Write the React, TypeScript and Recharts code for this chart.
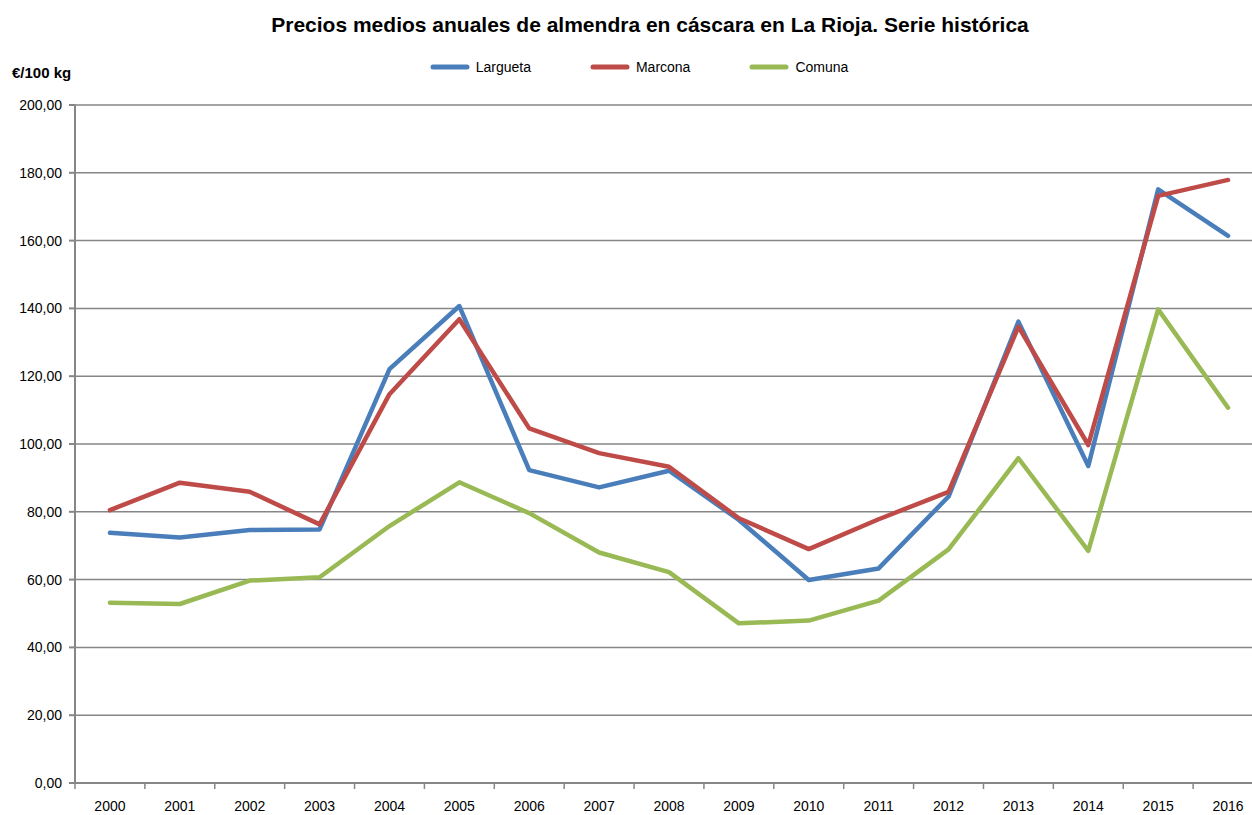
import React from "react";
import {
  LineChart,
  Line,
  XAxis,
  YAxis,
  CartesianGrid,
} from "recharts";

// años de la serie
const years = [
  "2000", "2001", "2002", "2003", "2004", "2005", "2006", "2007", "2008",
  "2009", "2010", "2011", "2012", "2013", "2014", "2015", "2016",
];

// €/100 kg
const largueta = [73.8, 72.4, 74.6, 74.8, 122.1, 140.7, 92.3, 87.2, 92.1, 77.6, 59.9, 63.3, 84.5, 136.1, 93.5, 175.1, 161.4];
const marcona = [80.5, 88.6, 85.9, 76.3, 114.7, 136.8, 104.6, 97.3, 93.3, 78.1, 69.0, 77.8, 85.9, 134.6, 99.7, 173.2, 177.9];
const comuna = [53.2, 52.8, 59.7, 60.7, 75.8, 88.7, 79.6, 68.0, 62.2, 47.1, 47.9, 53.8, 68.9, 95.8, 68.5, 139.7, 110.7];

const yTicks = [0, 20, 40, 60, 80, 100, 120, 140, 160, 180, 200];

const series = [
  { key: "Largueta", color: "#4A7EBB" },
  { key: "Marcona", color: "#BE4B48" },
  { key: "Comuna", color: "#98B954" },
];

const data = years.map((y, i) => ({
  year: y,
  Largueta: largueta[i],
  Marcona: marcona[i],
  Comuna: comuna[i],
}));

const FONT = "'Liberation Sans', Arial, sans-serif";
const W = 1270;
const H = 815;
const LEFT = 75;
const RIGHT = 7;
const BAND = (W - LEFT - RIGHT) / years.length;

const fmt = (v: number) => v.toFixed(2).replace(".", ",");

function YearTick(props: any) {
  const { x, y, payload } = props;
  const bx = x - BAND / 2;
  return (
    <g>
      <line x1={bx} y1={y} x2={bx} y2={y + 6} stroke="#868686" strokeWidth={1.5} />
      <text x={x} y={y} dy={28} textAnchor="middle" fontSize={14} fontFamily={FONT} fill="#000">
        {payload.value}
      </text>
    </g>
  );
}

function LegendBox() {
  return (
    <div style={{ display: "flex", justifyContent: "center", gap: 59, fontFamily: FONT, fontSize: 14 }}>
      {series.map((s) => (
        <div key={s.key} style={{ display: "flex", alignItems: "center" }}>
          <svg width={40} height={8} style={{ marginRight: 6 }}>
            <line x1={3} y1={4} x2={37} y2={4} stroke={s.color} strokeWidth={5} strokeLinecap="round" />
          </svg>
          <span>{s.key}</span>
        </div>
      ))}
    </div>
  );
}

export default function App() {
  return (
    <div style={{ position: "absolute", left: 0, top: 0, width: 1252, height: 815, overflow: "hidden", background: "#fff" }}>
      <div
        style={{
          position: "absolute",
          left: 0,
          top: 13,
          width: 1300,
          textAlign: "center",
          fontFamily: FONT,
          fontWeight: "bold",
          fontSize: 21,
        }}
      >
        Precios medios anuales de almendra en cáscara en La Rioja. Serie histórica
      </div>
      <div style={{ position: "absolute", left: 12, top: 64, fontFamily: FONT, fontWeight: "bold", fontSize: 15 }}>
        €/100 kg
      </div>
      <div style={{ position: "absolute", left: 0, top: 59, width: 1278 }}>
        <LegendBox />
      </div>
      <LineChart width={W} height={H} data={data} margin={{ top: 105, right: RIGHT, bottom: 0, left: 0 }}>
        <CartesianGrid vertical={false} stroke="#868686" strokeWidth={1.5} />
        <XAxis
          dataKey="year"
          height={32}
          stroke="#868686"
          strokeWidth={2}
          tickLine={false}
          tickSize={0}
          tickMargin={0}
          tick={<YearTick />}
          interval={0}
          padding={{ left: BAND / 2, right: BAND / 2 }}
        />
        <YAxis
          width={LEFT}
          domain={[0, 200]}
          ticks={yTicks}
          tickFormatter={fmt}
          stroke="#868686"
          strokeWidth={2}
          tickSize={6}
          tickMargin={7}
          tick={{ fill: "#000", fontSize: 14, fontFamily: FONT }}
          interval={0}
        />
        {series.map((s) => (
          <Line
            key={s.key}
            type="linear"
            dataKey={s.key}
            stroke={s.color}
            strokeWidth={4.5}
            strokeLinecap="round"
            strokeLinejoin="round"
            dot={false}
            isAnimationActive={false}
          />
        ))}
      </LineChart>
    </div>
  );
}
